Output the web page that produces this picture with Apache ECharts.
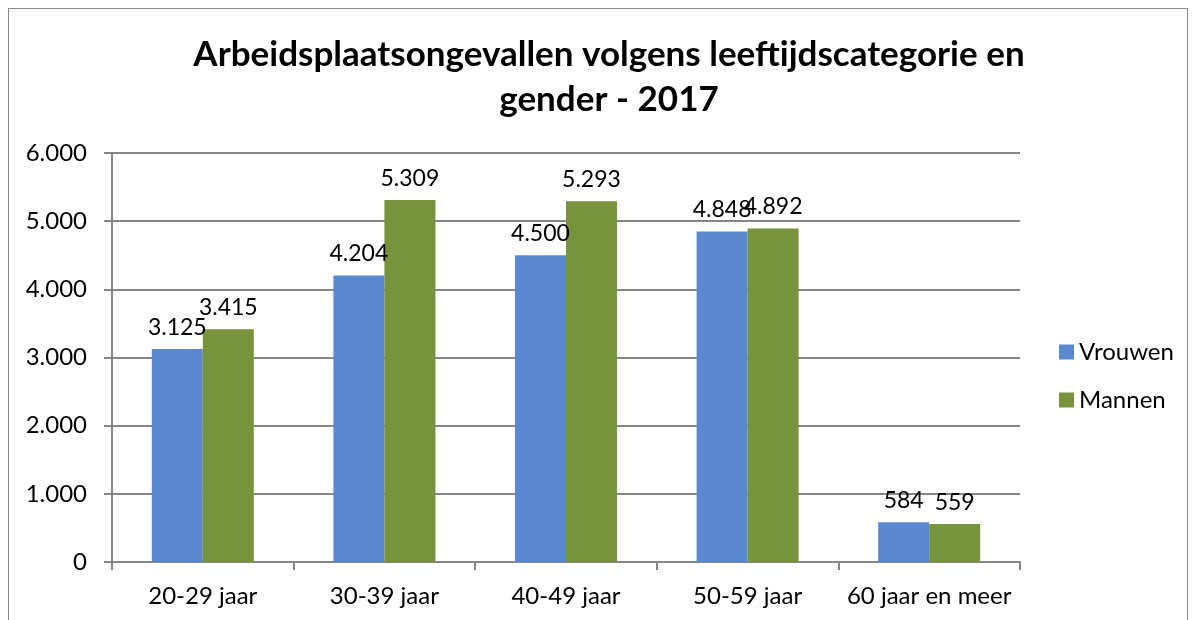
<!DOCTYPE html>
<html>
<head>
<meta charset="utf-8">
<script src="https://cdn.jsdelivr.net/npm/echarts@6/dist/echarts.min.js"></script>
<style>
html, body { margin: 0; padding: 0; background: #fff; }
#main { width: 1195px; height: 620px; }
#frame { position: absolute; left: 8px; top: 8px; width: 1180px; height: 640px; border: 1px solid #8c8c8c; box-sizing: border-box; pointer-events: none; }
</style>
</head>
<body>
<div id="main"></div>
<div id="frame"></div>
<script>
var categories = ['20-29 jaar', '30-39 jaar', '40-49 jaar', '50-59 jaar', '60 jaar en meer'];
var vrouwen = [3125, 4204, 4500, 4848, 584];
var mannen = [3415, 5309, 5293, 4892, 559];
var seriesNames = ['Vrouwen', 'Mannen'];

var fontFamily = 'Lato, "Open Sans", sans-serif';

function nl(v) {
    return String(v).replace(/\B(?=(\d{3})+(?!\d))/g, '.');
}

var myChart = echarts.init(document.getElementById('main'));
var option = {
    animation: false,
    title: {
        text: 'Arbeidsplaatsongevallen volgens leeftijdscategorie en\ngender - 2017',
        left: 604,
        top: 27,
        textAlign: 'center',
        textStyle: {
            fontFamily: fontFamily,
            fontSize: 35,
            fontWeight: 'bold',
            color: '#000',
            lineHeight: 45
        }
    },
    legend: {
        data: seriesNames,
        orient: 'vertical',
        left: 1054,
        top: 335,
        itemWidth: 15,
        itemHeight: 15,
        itemGap: 24,
        icon: 'rect',
        textStyle: { fontFamily: fontFamily, fontSize: 24, color: '#000' }
    },
    grid: { left: 112, right: 175, top: 153, bottom: 58 },
    xAxis: {
        type: 'category',
        data: categories,
        axisLine: { lineStyle: { color: '#868686', width: 2 } },
        axisTick: { show: true, length: 8, lineStyle: { color: '#868686', width: 2 } },
        axisLabel: { interval: 0, hideOverlap: false, fontFamily: fontFamily, fontSize: 24, color: '#000', margin: 22 }
    },
    yAxis: {
        type: 'value',
        min: 0,
        max: 6000,
        interval: 1000,
        axisLine: { show: true, lineStyle: { color: '#868686', width: 2 } },
        axisTick: { show: true, length: 8, lineStyle: { color: '#868686', width: 2 } },
        splitLine: { lineStyle: { color: '#868686', width: 2 } },
        axisLabel: {
            fontFamily: fontFamily, fontSize: 24, color: '#000', margin: 25,
            formatter: function (v) { return nl(v); }
        }
    },
    series: [
        {
            name: seriesNames[0],
            type: 'bar',
            data: vrouwen,
            barWidth: 51,
            barGap: '0%',
            itemStyle: { color: '#5A88D0' },
            label: {
                show: true, position: 'top', distance: 10,
                fontFamily: fontFamily, fontSize: 23, color: '#000',
                formatter: function (p) { return nl(p.value); }
            }
        },
        {
            name: seriesNames[1],
            type: 'bar',
            data: mannen,
            barWidth: 51,
            barGap: '0%',
            itemStyle: { color: '#77933C' },
            label: {
                show: true, position: 'top', distance: 10,
                fontFamily: fontFamily, fontSize: 23, color: '#000',
                formatter: function (p) { return nl(p.value); }
            }
        }
    ]
};
myChart.setOption(option);
</script>
</body>
</html>
